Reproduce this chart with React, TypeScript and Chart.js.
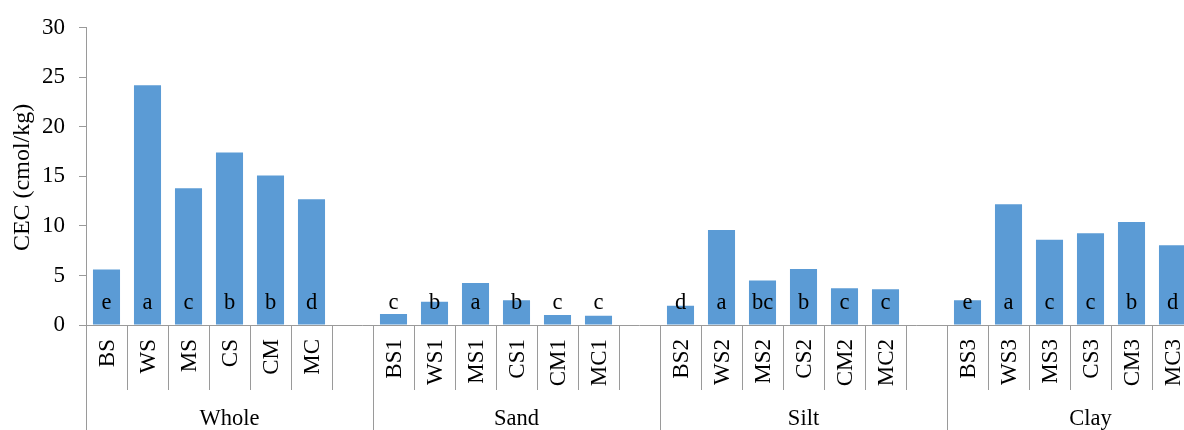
import React, { useEffect, useRef } from "react";
import { Chart, registerables } from "chart.js";

Chart.register(...registerables);

const groups = ["Whole", "Sand", "Silt", "Clay"];

const wholeLabels = ["BS", "WS", "MS", "CS", "CM", "MC"];
const sandLabels = ["BS1", "WS1", "MS1", "CS1", "CM1", "MC1"];
const siltLabels = ["BS2", "WS2", "MS2", "CS2", "CM2", "MC2"];
const clayLabels = ["BS3", "WS3", "MS3", "CS3", "CM3", "MC3"];

const wholeValues = [5.6, 24.2, 13.8, 17.4, 15.1, 12.7];
const sandValues = [1.1, 2.35, 4.25, 2.5, 1.0, 0.93];
const siltValues = [1.95, 9.6, 4.5, 5.65, 3.7, 3.6];
const clayValues = [2.5, 12.2, 8.6, 9.25, 10.4, 8.05];

const wholeLetters = ["e", "a", "c", "b", "b", "d"];
const sandLetters = ["c", "b", "a", "b", "c", "c"];
const siltLetters = ["d", "a", "bc", "b", "c", "c"];
const clayLetters = ["e", "a", "c", "c", "b", "d"];

const yTicks = [0, 5, 10, 15, 20, 25, 30];
const yTitle = "CEC (cmol/kg)";

const groupLabels = [wholeLabels, sandLabels, siltLabels, clayLabels];
const groupValues = [wholeValues, sandValues, siltValues, clayValues];
const groupLetters = [wholeLetters, sandLetters, siltLetters, clayLetters];

// Flatten with a blank spacer category after each group except the last
const labels: string[] = [];
const values: (number | null)[] = [];
const letters: string[] = [];
const groupStart: number[] = [];
groupLabels.forEach((gl, gi) => {
  groupStart.push(labels.length);
  gl.forEach((l, i) => {
    labels.push(l);
    values.push(groupValues[gi][i]);
    letters.push(groupLetters[gi][i]);
  });
  if (gi < groupLabels.length - 1) {
    labels.push("");
    values.push(null);
    letters.push("");
  }
});

const FONT = '"Liberation Serif", "Times New Roman", serif';
const LINE = "#9a9a9a";
const TEXT = "#000";

const axisPlugin = {
  id: "customAxis",
  afterDraw(chart: any) {
    const ctx = chart.ctx;
    const ca = chart.chartArea;
    const xs = chart.scales.x;
    const ys = chart.scales.y;
    const n = labels.length;
    const step = (ca.right - ca.left) / n;
    const y0 = ys.getPixelForValue(0);
    ctx.save();
    // zero line
    ctx.strokeStyle = LINE;
    ctx.lineWidth = 1;
    ctx.beginPath();
    ctx.moveTo(ca.left, Math.round(y0) + 0.5);
    ctx.lineTo(ca.right, Math.round(y0) + 0.5);
    ctx.stroke();

    // separators
    for (let i = 0; i <= n; i++) {
      const x = Math.round(xs.getPixelForValue(i) - step / 2) + 0.5;
      const isGroup = groupStart.includes(i);
      ctx.beginPath();
      ctx.moveTo(x, y0);
      ctx.lineTo(x, isGroup ? chart.height : y0 + 65);
      ctx.stroke();
    }

    // category labels (rotated)
    ctx.fillStyle = TEXT;
    ctx.font = `23px ${FONT}`;
    labels.forEach((l, i) => {
      if (!l) return;
      const cx = xs.getPixelForValue(i);
      ctx.save();
      ctx.translate(cx, y0 + 14);
      ctx.rotate(-Math.PI / 2);
      ctx.textAlign = "right";
      ctx.textBaseline = "middle";
      ctx.fillText(l, 0, 1);
      ctx.restore();
    });

    // group labels
    ctx.font = `22.5px ${FONT}`;
    ctx.textAlign = "center";
    ctx.textBaseline = "alphabetic";
    groups.forEach((g, gi) => {
      const s = groupStart[gi];
      const e = gi < groups.length - 1 ? groupStart[gi + 1] : s + 7;
      const x1 = xs.getPixelForValue(s) - step / 2;
      const x2 = xs.getPixelForValue(e) - step / 2;
      ctx.fillText(g, (x1 + x2) / 2, y0 + 100);
    });

    // y title
    ctx.font = `24px ${FONT}`;
    ctx.save();
    ctx.translate(23, (ca.top + ca.bottom) / 2 + 1);
    ctx.rotate(-Math.PI / 2);
    ctx.textAlign = "center";
    ctx.textBaseline = "middle";
    ctx.fillText(yTitle, 0, 0);
    ctx.restore();

    // letters in bars
    ctx.font = `22.5px ${FONT}`;
    ctx.textAlign = "center";
    ctx.textBaseline = "alphabetic";
    letters.forEach((t, i) => {
      if (!t) return;
      ctx.fillText(t, xs.getPixelForValue(i), y0 - 16);
    });
    ctx.restore();
  },
};

export default function App() {
  const ref = useRef<HTMLCanvasElement | null>(null);
  useEffect(() => {
    if (!ref.current) return;
    const chart = new Chart(ref.current, {
      type: "bar",
      data: {
        labels,
        datasets: [
          {
            data: values,
            backgroundColor: "#5b9bd5",
            borderWidth: 0,
            categoryPercentage: 1,
            barPercentage: 0.66,
          },
        ],
      },
      options: {
        responsive: false,
        animation: false,
        layout: { padding: { top: 26, bottom: 105, left: 0, right: 7 } },
        plugins: {
          legend: { display: false },
          tooltip: { enabled: false },
          title: { display: false },
        },
        scales: {
          x: { display: false, offset: true },
          y: {
            min: 0,
            max: 30,
            afterFit: (scale: any) => {
              scale.width = 86;
            },
            afterBuildTicks: (scale: any) => {
              scale.ticks = yTicks.map((v) => ({ value: v }));
            },
            ticks: {
              color: TEXT,
              font: { family: FONT, size: 23 },
              padding: 14,
            },
            grid: {
              drawOnChartArea: false,
              drawTicks: true,
              tickLength: 7,
              color: LINE,
            },
            border: { color: LINE },
          },
        },
      },
      plugins: [axisPlugin],
    });
    return () => chart.destroy();
  }, []);
  return (
    <div
      style={{
        position: "fixed",
        left: 0,
        top: 0,
        width: 1184,
        height: 430,
        overflow: "hidden",
        background: "#fff",
      }}
    >
      <canvas ref={ref} width={1200} height={430} style={{ display: "block" }} />
    </div>
  );
}
